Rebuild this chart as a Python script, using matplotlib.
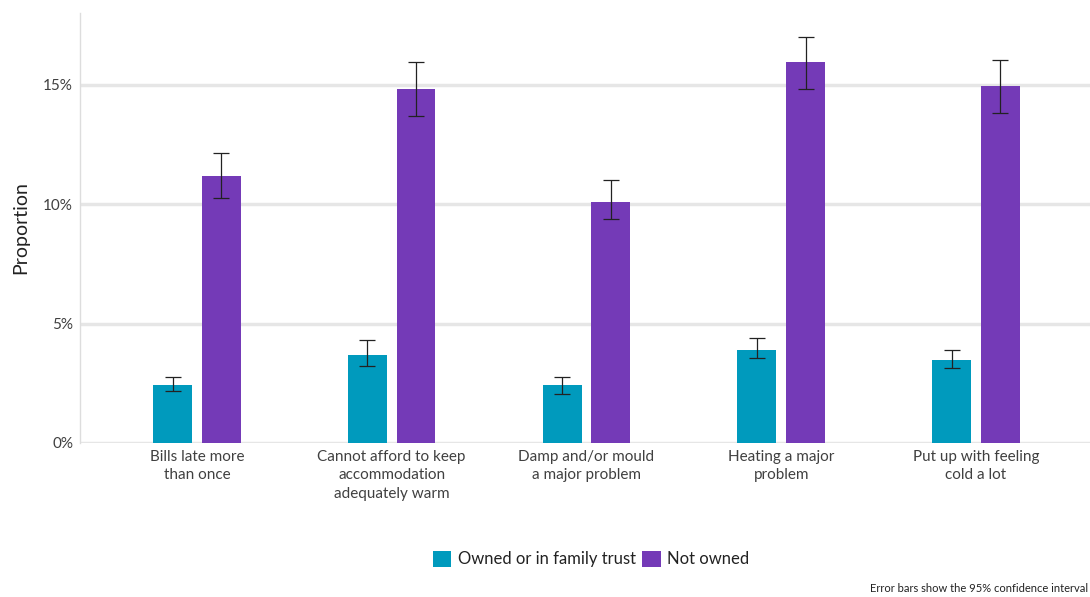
import numpy as np
import matplotlib
matplotlib.use("Agg")
import matplotlib.pyplot as plt
from matplotlib.patches import Patch

plt.rcParams['font.family'] = ['Lato', 'DejaVu Sans']

categories = ["Bills late more\nthan once",
              "Cannot afford to keep\naccommodation\nadequately warm",
              "Damp and/or mould\na major problem",
              "Heating a major\nproblem",
              "Put up with feeling\ncold a lot"]

owned = [2.43, 3.69, 2.43, 3.91, 3.48]
owned_lo = [2.18, 3.23, 2.05, 3.56, 3.14]
owned_hi = [2.77, 4.32, 2.77, 4.40, 3.90]

not_owned = [11.19, 14.80, 10.10, 15.93, 14.96]
not_owned_lo = [10.27, 13.70, 9.39, 14.80, 13.83]
not_owned_hi = [12.15, 15.93, 11.02, 16.99, 16.05]

series_labels = ["Owned or in family trust", "Not owned"]
teal = "#009abd"
purple = "#743ab7"

fig = plt.figure(figsize=(10.9, 5.97), dpi=100)
ax = fig.add_axes([80 / 1090, 1 - 443 / 597, 1 - 80 / 1090, (443 - 13) / 597])

x = np.arange(len(categories))
w = 0.2
off = 0.125

for vals, lo, hi, col, sign in [(owned, owned_lo, owned_hi, teal, -1),
                                (not_owned, not_owned_lo, not_owned_hi, purple, 1)]:
    vals = np.array(vals)
    err = np.vstack([vals - np.array(lo), np.array(hi) - vals])
    ax.bar(x + sign * off, vals, width=w, color=col, zorder=3)
    ax.errorbar(x + sign * off, vals, yerr=err, fmt='none', ecolor='#222222',
                elinewidth=0.9, capsize=5.5, capthick=0.9, zorder=4)

ax.set_xlim(-0.6, 4.585)
ax.set_ylim(0, 18.0)
ax.set_yticks([0, 5, 10, 15])
ax.set_yticklabels(["0%", "5%", "10%", "15%"])
ax.yaxis.grid(True, color="#e6e6e6", linewidth=2.5, zorder=0)
ax.set_axisbelow(True)
ax.set_xticks(x)
ax.set_xticklabels(categories, linespacing=1.4)
ax.tick_params(axis='both', length=0, labelsize=11, colors="#404040")
ax.tick_params(axis='x', pad=5)
ax.tick_params(axis='y', pad=5)
for s in ['top', 'right', 'bottom']:
    ax.spines[s].set_visible(False)
ax.spines['left'].set_color("#dddddd")
ax.spines['left'].set_linewidth(1)
ax.set_ylabel("Proportion", fontsize=14, color="#222222", labelpad=10)

handles = [Patch(facecolor=teal), Patch(facecolor=purple)]
fig.legend(handles, series_labels, loc='center', bbox_to_anchor=(591 / 1090, 1 - 559 / 597),
           ncol=2, frameon=False, fontsize=12, handlelength=1.1, handleheight=1.1,
           handletextpad=0.4, columnspacing=0.4, labelcolor="#222222")

fig.text(0.998, 1 - 588 / 597, "Error bars show the 95% confidence interval",
         fontsize=8, color="#222222", ha='right', va='center')

fig.savefig("out.png", dpi=100)
